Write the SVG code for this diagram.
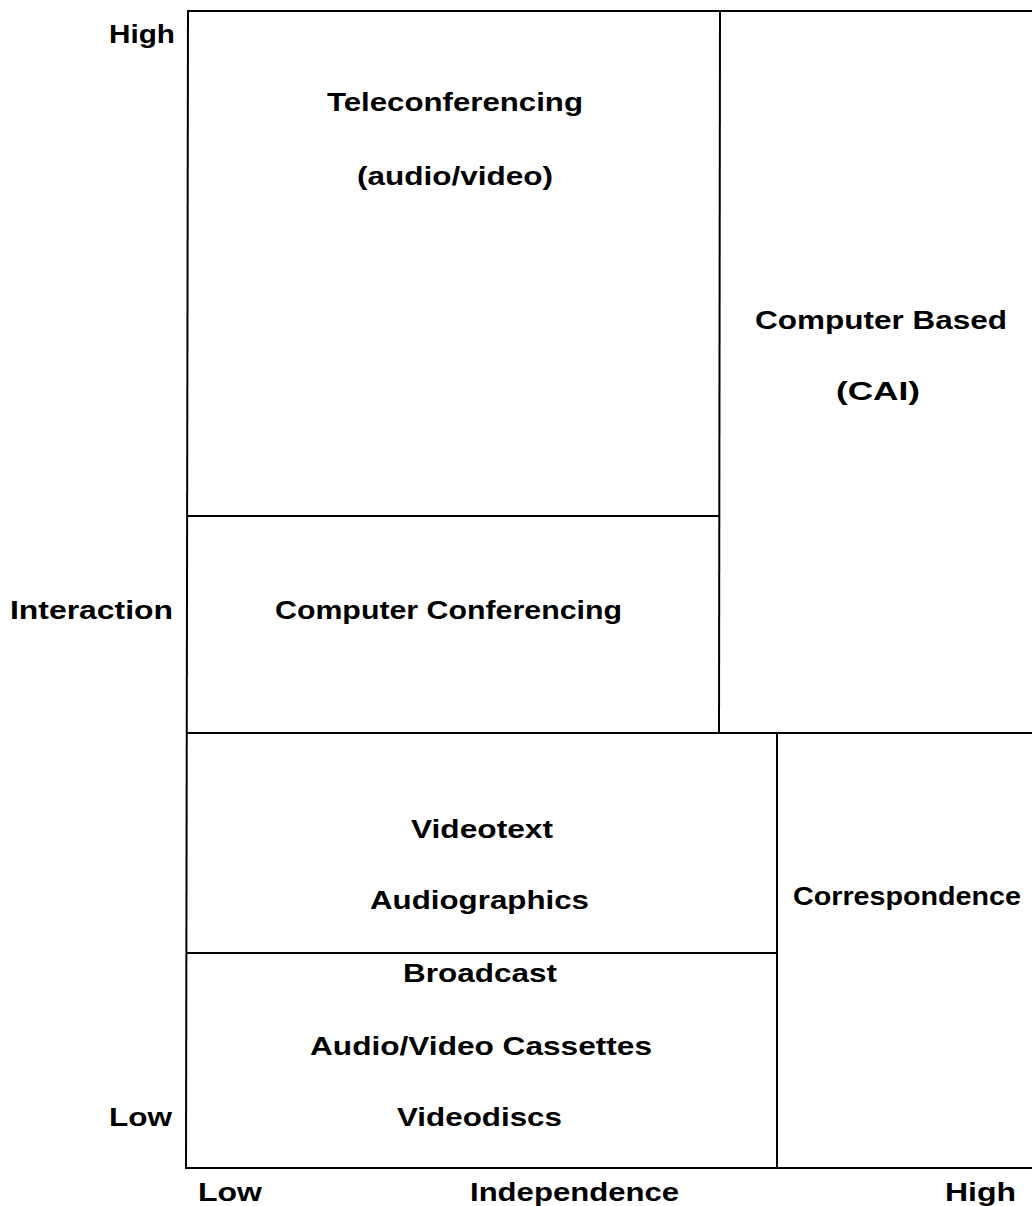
<svg xmlns="http://www.w3.org/2000/svg" width="1032" height="1206" viewBox="0 0 1032 1206">
<style>
.ln{stroke:#000;stroke-width:2;fill:none}
.t{font-family:"Liberation Sans",Arial,sans-serif;font-size:26px;font-weight:bold;fill:#000;text-anchor:start}
</style>
<rect width="1032" height="1206" fill="#fff"/>
<g id="grid">
<line class="ln" x1="188" y1="11" x2="1032" y2="11"/>
<line class="ln" x1="188" y1="10" x2="186" y2="1169"/>
<line class="ln" x1="720" y1="11" x2="719" y2="733"/>
<line class="ln" x1="188" y1="516" x2="719" y2="516"/>
<line class="ln" x1="186" y1="733" x2="1032" y2="733"/>
<line class="ln" x1="777" y1="733" x2="777" y2="1168"/>
<line class="ln" x1="186" y1="953" x2="777" y2="953"/>
<line class="ln" x1="185" y1="1168" x2="1032" y2="1168"/>
</g>
<g id="axis-y">
<text class="t" x="109" y="43" textLength="66" lengthAdjust="spacingAndGlyphs">High</text>
<text class="t" x="10" y="619" textLength="163" lengthAdjust="spacingAndGlyphs">Interaction</text>
<text class="t" x="109" y="1126" textLength="63" lengthAdjust="spacingAndGlyphs">Low</text>
</g>
<g id="axis-x">
<text class="t" x="198" y="1201" textLength="64" lengthAdjust="spacingAndGlyphs">Low</text>
<text class="t" x="470" y="1201" textLength="209" lengthAdjust="spacingAndGlyphs">Independence</text>
<text class="t" x="945" y="1201" textLength="71" lengthAdjust="spacingAndGlyphs">High</text>
</g>
<g id="teleconferencing">
<text class="t" x="327" y="111" textLength="256" lengthAdjust="spacingAndGlyphs">Teleconferencing</text>
<text class="t" x="357" y="185" textLength="196" lengthAdjust="spacingAndGlyphs">(audio/video)</text>
</g>
<g id="computer-based">
<text class="t" x="755" y="329" textLength="252" lengthAdjust="spacingAndGlyphs">Computer Based</text>
<text class="t" x="836" y="400" textLength="84" lengthAdjust="spacingAndGlyphs">(CAI)</text>
</g>
<g id="computer-conferencing">
<text class="t" x="275" y="619" textLength="347" lengthAdjust="spacingAndGlyphs">Computer Conferencing</text>
</g>
<g id="videotext">
<text class="t" x="411" y="838" textLength="142" lengthAdjust="spacingAndGlyphs">Videotext</text>
<text class="t" x="370" y="909" textLength="219" lengthAdjust="spacingAndGlyphs">Audiographics</text>
</g>
<g id="correspondence">
<text class="t" x="793" y="905" textLength="228" lengthAdjust="spacingAndGlyphs">Correspondence</text>
</g>
<g id="broadcast">
<text class="t" x="403" y="982" textLength="154" lengthAdjust="spacingAndGlyphs">Broadcast</text>
<text class="t" x="310" y="1055" textLength="342" lengthAdjust="spacingAndGlyphs">Audio/Video Cassettes</text>
<text class="t" x="397" y="1126" textLength="165" lengthAdjust="spacingAndGlyphs">Videodiscs</text>
</g>
</svg>
